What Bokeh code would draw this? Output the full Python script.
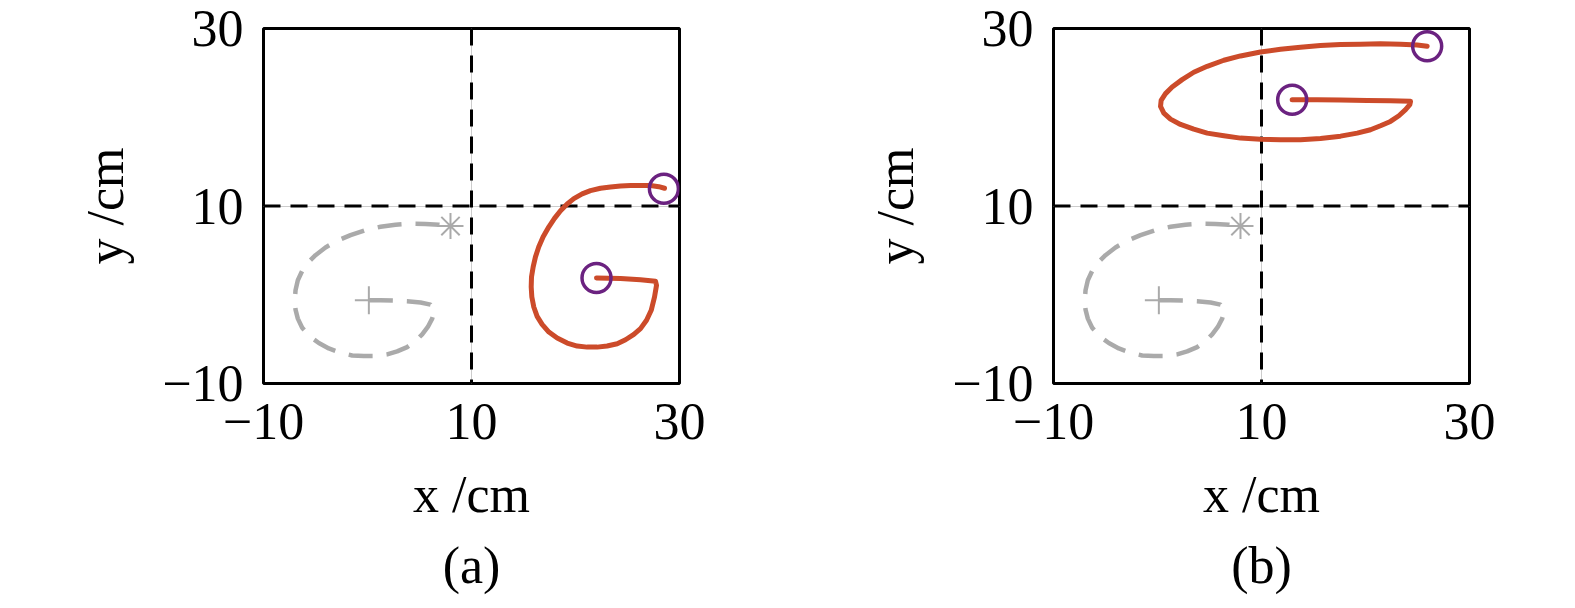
from bokeh.plotting import figure
from bokeh.layouts import row
from bokeh.models import Span, Title, FixedTicker, Range1d
from bokeh.embed import file_html
from bokeh.resources import INLINE

# ---------------- data ----------------
ticks = [-10, 10, 30]
tick_overrides = {-10: "\u221210", 10: "10", 30: "30"}
axis_min, axis_max = -10, 30
ref_x = 10
ref_y = 10

# gray dashed reference trajectory (same in both panels)
gray_x = [0.13, 1.25, 2.53, 3.81, 5.10, 6.06, 6.44, 6.22, 5.80, 5.26, 4.62, 3.81,
          2.85, 1.89, 0.77, -0.35, -1.47, -2.60, -3.72, -4.68, -5.55, -6.28, -6.70,
          -6.92, -6.99, -6.92, -6.70, -6.28, -5.74, -5.00, -4.04, -2.92, -1.63, -0.19,
          1.25, 2.69, 4.13, 5.58, 6.86, 7.98]
gray_y = [-0.62, -0.62, -0.66, -0.73, -0.88, -1.11, -1.75, -2.69, -3.63, -4.46, -5.22,
          -5.90, -6.38, -6.72, -6.91, -6.91, -6.84, -6.53, -6.05, -5.44, -4.69, -3.71,
          -2.69, -1.68, -0.62, 0.51, 1.64, 2.69, 3.60, 4.46, 5.33, 6.08, 6.72, 7.29,
          7.66, 7.89, 8.00, 7.97, 7.89, 7.74]
plus_x, plus_y = [0.13], [-0.62]
star_x, star_y = [7.98], [7.74]

# panel (a) trajectory
a_x = [22.02, 24.33, 26.25, 27.69, 27.79, 27.60, 27.28, 26.83, 26.25, 25.61, 24.81,
       24.01, 23.04, 22.08, 21.12, 20.16, 19.20, 18.24, 17.44, 16.79, 16.31, 15.99,
       15.80, 15.74, 15.77, 15.93, 16.15, 16.47, 16.89, 17.44, 17.98, 18.56, 19.20,
       19.84, 20.64, 21.44, 22.40, 23.37, 24.33, 25.29, 26.25, 27.21, 28.01, 28.56]
a_y = [1.90, 1.83, 1.68, 1.53, 1.07, -0.24, -1.75, -2.88, -3.82, -4.46, -5.07,
       -5.52, -5.78, -5.90, -5.90, -5.78, -5.44, -4.88, -4.20, -3.33, -2.43, -1.38,
       -0.24, 0.88, 2.01, 3.14, 4.27, 5.40, 6.53, 7.66, 8.61, 9.47, 10.23,
       10.83, 11.36, 11.73, 12.00, 12.15, 12.26, 12.30, 12.30, 12.30, 12.18, 12.00]
a_ends_x = [22.02, 28.50]
a_ends_y = [1.90, 11.95]

# panel (b) trajectory
b_x = [12.95, 15.35, 17.60, 20.16, 22.40, 24.33, 24.26, 23.85, 23.21, 22.40, 21.44,
       20.48, 19.20, 17.60, 15.67, 13.75, 11.83, 9.90, 7.98, 6.38, 4.78, 3.49,
       2.21, 1.25, 0.61, 0.29, 0.35, 0.77, 1.41, 2.37, 3.49, 4.78, 6.38, 7.98,
       9.90, 11.83, 13.75, 15.67, 17.60, 19.52, 21.44, 23.37, 24.97, 25.93]
b_y = [21.98, 21.98, 21.94, 21.90, 21.86, 21.79, 21.41, 20.85, 20.17, 19.53, 19.04,
       18.59, 18.21, 17.87, 17.61, 17.46, 17.46, 17.53, 17.65, 17.91, 18.21, 18.66,
       19.19, 19.79, 20.47, 21.22, 21.90, 22.66, 23.41, 24.24, 25.07, 25.74, 26.42,
       26.91, 27.36, 27.66, 27.89, 28.08, 28.19, 28.23, 28.27, 28.23, 28.15, 28.00]
b_ends_x = [12.95, 25.93]
b_ends_y = [21.98, 28.00]

# ---------------- style ----------------
FONT = "Liberation Serif"
FS = "52px"
ORANGE = "#cc4b2a"
PURPLE = "#6b2280"
GRAY = "#aaaaaa"
HEIGHT = 606


def make_panel(tx, ty, ex, ey, caption, width, left, right):
    top = 28
    frame_h = 355
    p = figure(width=width, height=HEIGHT, output_backend="svg", toolbar_location=None,
               x_range=Range1d(axis_min, axis_max), y_range=Range1d(axis_min, axis_max),
               min_border_left=left, min_border_right=right, min_border_top=top,
               min_border_bottom=HEIGHT - top - frame_h)
    p.background_fill_color = "white"
    p.border_fill_color = "white"
    p.outline_line_color = "black"
    p.outline_line_width = 3
    p.outline_line_alpha = 1.0

    for ax in (p.xaxis[0], p.yaxis[0]):
        ax.ticker = FixedTicker(ticks=ticks)
        ax.major_label_overrides = tick_overrides
        ax.major_label_text_font = FONT
        ax.major_label_text_font_size = FS
        ax.major_label_text_color = "black"
        ax.axis_line_color = None
        ax.major_tick_line_color = None
        ax.minor_tick_line_color = None
        ax.major_tick_out = 0
        ax.major_tick_in = 0
        ax.axis_label_text_font = FONT
        ax.axis_label_text_font_size = FS
        ax.axis_label_text_font_style = "normal"
        ax.axis_label_text_color = "black"
    p.xaxis.axis_label = "x /cm"
    p.yaxis.axis_label = "y /cm"
    p.xaxis.major_label_standoff = 20
    p.yaxis.major_label_standoff = 20
    p.xaxis.axis_label_standoff = 24
    p.yaxis.axis_label_standoff = 25
    p.yaxis.major_label_orientation = "horizontal"

    for g in (p.xgrid[0], p.ygrid[0]):
        g.ticker = FixedTicker(ticks=ticks)
        g.grid_line_color = "#cccccc"
        g.grid_line_width = 1

    p.add_layout(Span(location=ref_x, dimension="height", line_color="black",
                      line_width=3, line_dash="17 10", level="underlay"))
    p.add_layout(Span(location=ref_y, dimension="width", line_color="black",
                      line_width=3, line_dash="17 10", level="underlay"))

    p.line(gray_x, gray_y, line_color=GRAY, line_width=4.5, line_dash="24 14")
    p.scatter(plus_x, plus_y, marker="cross", size=28, line_color=GRAY, line_width=2)
    p.scatter(star_x, star_y, marker="asterisk", size=26, line_color=GRAY, line_width=2)

    p.line(tx, ty, line_color=ORANGE, line_width=5, line_join="round", line_cap="round")
    p.scatter(ex, ey, marker="circle", size=29, fill_color=None, line_color=PURPLE,
              line_width=3.5)

    p.add_layout(Title(text=caption, align="center", text_font=FONT, text_font_size=FS,
                       text_font_style="normal", text_color="black", standoff=18),
                 "below")
    return p


pa = make_panel(a_x, a_y, a_ends_x, a_ends_y, "(a)", 790, 263, 111)
pb = make_panel(b_x, b_y, b_ends_x, b_ends_y, "(b)", 777, 263, 98)

layout = row(pa, pb)
open("out.html", "w").write(file_html(layout, INLINE))
